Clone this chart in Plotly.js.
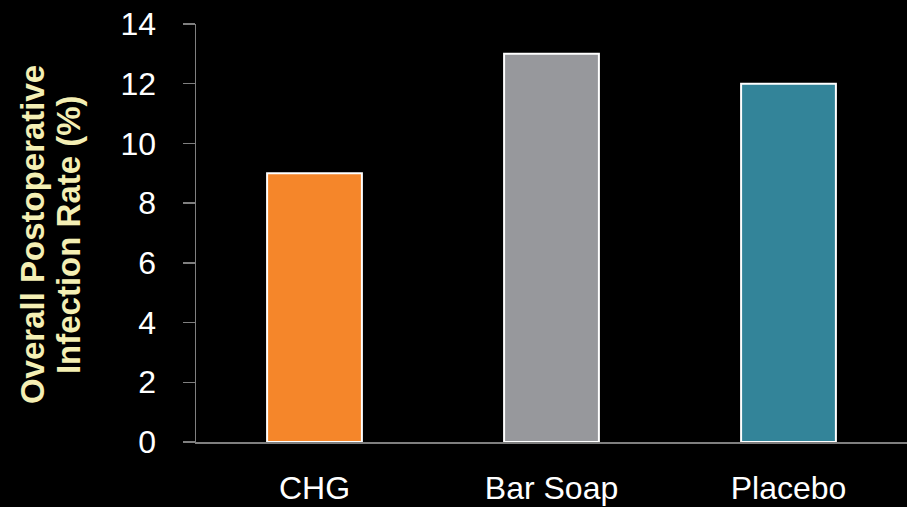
<!DOCTYPE html>
<html>
<head>
<meta charset="utf-8">
<script src="https://cdn.plot.ly/plotly-3.0.1.min.js"></script>
<style>html,body{margin:0;padding:0;background:#000;}#chart{width:907px;height:507px;}</style>
</head>
<body>
<div id="chart"></div>
<script>
const categories = ["CHG", "Bar Soap", "Placebo"];
const infectionRate = [9, 13, 12];
const barColors = ["#f5862a", "#97989c", "#338499"];
const yTickValues = [0, 2, 4, 6, 8, 10, 12, 14];
const yTitleLines = ["Overall Postoperative", "Infection Rate (%)"];

const trace = {
  type: "bar",
  x: categories,
  y: infectionRate,
  marker: { color: barColors, line: { color: "#ffffff", width: 2 } },
  hoverinfo: "x+y"
};

const titleFont = { size: 33, color: "#f4efb4", family: "Liberation Sans, Arial, sans-serif" };

const layout = {
  width: 907,
  height: 507,
  paper_bgcolor: "#000000",
  plot_bgcolor: "#000000",
  margin: { l: 196, r: 0, t: 24, b: 65 },
  bargap: 0.6,
  showlegend: false,
  font: { family: "Liberation Sans, Arial, sans-serif", color: "#ffffff", size: 32 },
  xaxis: {
    showline: true, linecolor: "#7f7f7f", linewidth: 1.5,
    showgrid: false, zeroline: false, ticks: "",
    ticklabelstandoff: 17,
    tickfont: { size: 32, color: "#ffffff" }
  },
  yaxis: {
    range: [0, 14], tickvals: yTickValues,
    showline: true, linecolor: "#7f7f7f", linewidth: 1.5,
    ticks: "outside", ticklen: 12, tickcolor: "#7f7f7f", tickwidth: 1.5,
    showgrid: false, zeroline: false,
    ticklabelstandoff: 20,
    tickfont: { size: 32, color: "#ffffff" }
  },
  annotations: [
    { text: "<b>" + yTitleLines[0] + "</b>", xref: "paper", yref: "paper",
      x: (32 - 196) / 711, y: 0.495, xanchor: "center", yanchor: "middle",
      textangle: -90, showarrow: false, font: titleFont },
    { text: "<b>" + yTitleLines[1] + "</b>", xref: "paper", yref: "paper",
      x: (68 - 196) / 711, y: 0.495, xanchor: "center", yanchor: "middle",
      textangle: -90, showarrow: false, font: titleFont }
  ]
};

Plotly.newPlot("chart", [trace], layout, { displayModeBar: false, staticPlot: true });
</script>
</body>
</html>
